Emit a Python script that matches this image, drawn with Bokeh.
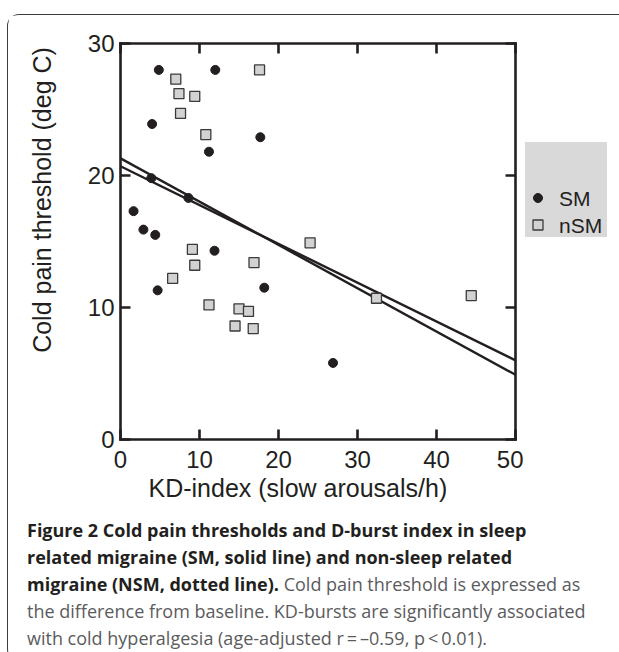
from math import pi
from bokeh.plotting import figure
from bokeh.models import (LinearAxis, FixedTicker, Title, Div, Range1d)
from bokeh.core.properties import value
from bokeh.layouts import column, row
from bokeh.embed import file_html
from bokeh.resources import INLINE

# ---------------- data ----------------
sm_x = [4.85, 12.0, 4.0, 17.7, 11.2, 3.9, 8.6, 1.65, 2.9, 4.4, 11.9, 4.7, 18.2, 26.9]
sm_y = [28.0, 28.0, 23.9, 22.9, 21.8, 19.8, 18.3, 17.3, 15.9, 15.5, 14.3, 11.3, 11.5, 5.8]

nsm_x = [7.0, 7.4, 9.4, 7.6, 10.8, 17.6, 9.1, 9.4, 6.6, 16.9, 24.0, 11.2, 15.0, 16.2, 14.5, 16.8, 32.4, 44.4]
nsm_y = [27.3, 26.2, 26.0, 24.7, 23.1, 28.0, 14.4, 13.2, 12.2, 13.4, 14.9, 10.2, 9.9, 9.7, 8.6, 8.4, 10.7, 10.9]

fit_x = [0, 50]
sm_fit_y = [21.3, 4.9]
nsm_fit_y = [20.7, 6.0]

x_ticks = [0, 10, 20, 30, 40, 50]
y_ticks = [0, 10, 20, 30]

series_labels = ["SM", "nSM"]
x_title = "KD-index (slow arousals/h)"
y_title = "Cold pain threshold (deg C)"

caption_bold = ("Figure 2 Cold pain thresholds and D-burst index in sleep<br>"
                "related migraine (SM, solid line) and non-sleep related<br>"
                "migraine (NSM, dotted line).")
caption_regular = (" Cold pain threshold is expressed as<br>"
                   "the difference from baseline. KD-bursts are significantly associated<br>"
                   "with cold hyperalgesia (age-adjusted r\u2009=\u2009\u20130.59, p\u2009&lt;\u20090.01).")

# ---------------- styling ----------------
INK = "#231f20"
GREY_TXT = "#5b5b5d"
SQ_FILL = "#d2d2d2"
SQ_LINE = "#3a3a3a"
AX_FONT = "Liberation Sans"
CAP_FONT = "Open Sans"

YLAB_W, FIG_W, LEG_W = 60, 455, 95
FIG_H = 490
DIV_H = 146

# page-pixel ranges used by the side panels (their frames align with the chart frame)
FRAME_TOP, FRAME_BOTTOM = 43.5, 439.5

p = figure(width=FIG_W, height=FIG_H, x_range=(0, 50), y_range=(0, 30),
           output_backend="svg", toolbar_location=None,
           x_axis_location=None, y_axis_location=None,
           min_border_left=52, min_border_right=8,
           min_border_top=28, min_border_bottom=66)
p.outline_line_color = None
p.grid.visible = False
p.background_fill_color = "white"
p.border_fill_color = "white"

ax_b = LinearAxis(ticker=FixedTicker(ticks=x_ticks))
ax_t = LinearAxis(ticker=FixedTicker(ticks=x_ticks))
ax_l = LinearAxis(ticker=FixedTicker(ticks=y_ticks))
ax_r = LinearAxis(ticker=FixedTicker(ticks=y_ticks))
p.add_layout(ax_b, "below")
p.add_layout(ax_t, "above")
p.add_layout(ax_l, "left")
p.add_layout(ax_r, "right")

for ax in (ax_b, ax_t, ax_l, ax_r):
    ax.axis_line_color = INK
    ax.axis_line_width = 2.6
    ax.axis_line_cap = "square"
    ax.major_tick_line_color = INK
    ax.major_tick_line_width = 2.6
    ax.major_tick_in = 10
    ax.major_tick_out = 0
    ax.minor_tick_line_color = None
    ax.major_label_text_font = AX_FONT
    ax.major_label_text_font_size = "24px"
    ax.major_label_text_color = INK

ax_b.major_label_standoff = 11
ax_l.major_label_standoff = 6
ax_t.major_label_standoff = 0
ax_r.major_label_standoff = 0
ax_t.major_label_overrides = {t: "" for t in x_ticks}
ax_r.major_label_overrides = {t: "" for t in y_ticks}

# x-axis title
p.add_layout(Title(text=x_title, align="left", offset=28, standoff=2,
                   text_font=AX_FONT, text_font_size="25px",
                   text_font_style="normal", text_color=INK), "below")

# regression lines
p.line(fit_x, sm_fit_y, line_color=INK, line_width=2.4)
p.line(fit_x, nsm_fit_y, line_color=INK, line_width=2.4)

# points
p.scatter(sm_x, sm_y, marker="circle", size=9, fill_color=INK, line_color=INK)
p.scatter(nsm_x, nsm_y, marker="square", size=10, fill_color=SQ_FILL,
          line_color=SQ_LINE, line_width=1.3)


def side_panel(width, x0):
    f = figure(width=width, height=FIG_H, x_range=Range1d(x0, x0 + width),
               y_range=Range1d(FRAME_BOTTOM, FRAME_TOP), output_backend="svg",
               toolbar_location=None, x_axis_location=None, y_axis_location=None,
               min_border=0, min_border_left=0, min_border_right=0,
               min_border_top=0, min_border_bottom=0)
    f.outline_line_color = None
    f.grid.visible = False
    f.background_fill_color = "white"
    f.border_fill_color = "white"
    return f


# ---------------- y title panel ----------------
ylab = side_panel(YLAB_W, 8.5)
ylab.text([42], [200], text=[y_title], angle=pi / 2,
          text_font=value(AX_FONT), text_font_size="25px", text_color=INK,
          text_align="center", text_baseline="middle")

# ---------------- legend panel ----------------
leg = side_panel(LEG_W, 523.5)
leg.quad(left=[525], right=[607], top=[142], bottom=[237],
         fill_color="#d9d9d9", line_color=None)
leg.scatter([538], [198], marker="circle", size=9, fill_color=INK, line_color=INK)
leg.scatter([538], [225], marker="square", size=10, fill_color=SQ_FILL,
            line_color=SQ_LINE, line_width=1.3)
leg.text([559, 559], [198, 225], text=series_labels,
         text_font=value(AX_FONT), text_font_size="21px", text_color=INK,
         text_baseline="middle", text_align="left")

# caption below the chart
cap_html = (
    f'<div style="font-family:\'{CAP_FONT}\',sans-serif;font-size:18px;'
    f'line-height:27px;color:{GREY_TXT};white-space:nowrap;'
    f'padding-left:14px;padding-top:7px;">'
    f'<b style="color:{INK};font-weight:700;">{caption_bold}</b>{caption_regular}</div>'
)
cap = Div(text=cap_html, width=YLAB_W + FIG_W + LEG_W, height=DIV_H)

layout = column(row(ylab, p, leg, spacing=0), cap, spacing=0, margin=(14, 0, 0, 7),
                styles={"border-top": "1.5px solid #3c3c3c",
                        "border-left": "1.5px solid #3c3c3c",
                        "border-top-left-radius": "12px",
                        "border-bottom-left-radius": "12px"})

open("out.html", "w").write(file_html(layout, INLINE))
